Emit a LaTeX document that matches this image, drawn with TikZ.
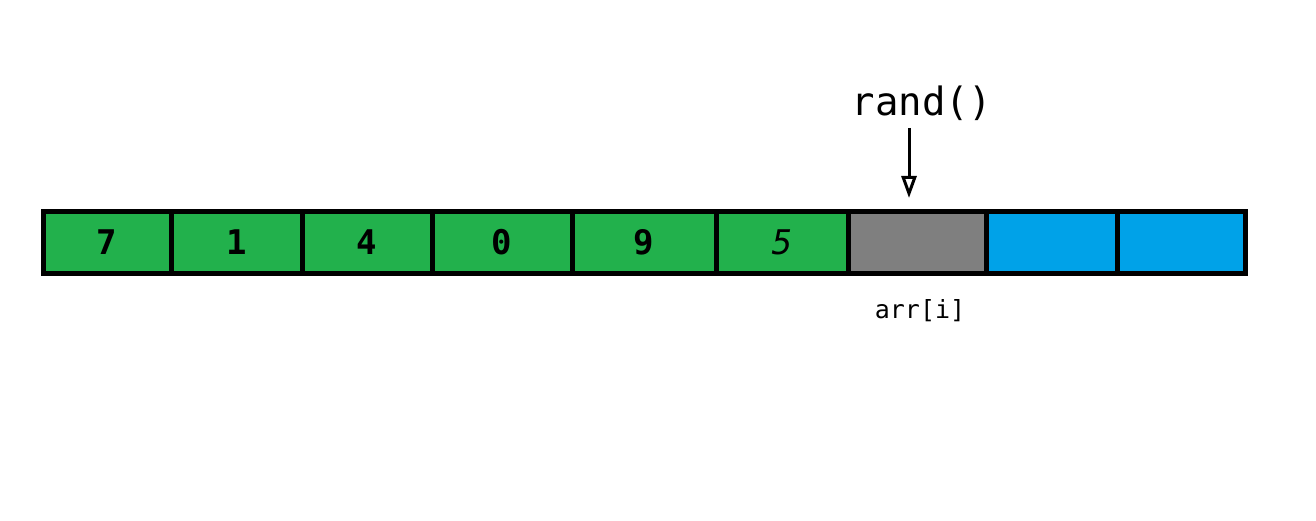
\documentclass[tikz,border=0pt]{standalone}
\usepackage{fontspec}
\setmonofont{DejaVu Sans Mono}
\usetikzlibrary{arrows.meta}
\definecolor{cellgreen}{HTML}{22B14C}
\definecolor{cellgray}{HTML}{7F7F7F}
\definecolor{cellblue}{HTML}{00A2E8}
\tikzset{cell/.style={draw=black,line width=5pt,minimum height=61pt,inner sep=0pt,font=\ttfamily\bfseries\fontsize{34}{34}\selectfont}}

\begin{document}
\begin{tikzpicture}[x=1pt,y=-1pt]
\useasboundingbox (0,0) rectangle (1316,521);
\node[cell,fill=cellgreen,minimum width=128pt] (c1) at (107,242.5) {7};
\node[cell,fill=cellgreen,minimum width=131pt] (c2) at (236.5,242.5) {1};
\node[cell,fill=cellgreen,minimum width=130pt] (c3) at (367,242.5) {4};
\node[cell,fill=cellgreen,minimum width=140pt] (c4) at (502,242.5) {0};
\node[cell,fill=cellgreen,minimum width=144pt] (c5) at (644,242.5) {9};
\node[cell,fill=cellgreen,minimum width=132pt] (c6) at (782,242.5) {\mdseries\textit{5}};
\node[cell,fill=cellgray,minimum width=138pt] (c7) at (917,242.5) {};
\node[cell,fill=cellblue,minimum width=131pt] (c8) at (1051.5,242.5) {};
\node[cell,fill=cellblue,minimum width=128pt] (c9) at (1181,242.5) {};
\node[font=\ttfamily\fontsize{39}{39}\selectfont] (rand) at (922,103) {rand()};
\node[font=\ttfamily\fontsize{25}{25}\selectfont] (arr) at (920,311) {arr[i]};
\coordinate (tip) at (909,198);
\draw[-{Triangle[open,length=22pt,width=15pt]},line width=3pt] (909,128) -- (tip);
\end{tikzpicture}
\end{document}
